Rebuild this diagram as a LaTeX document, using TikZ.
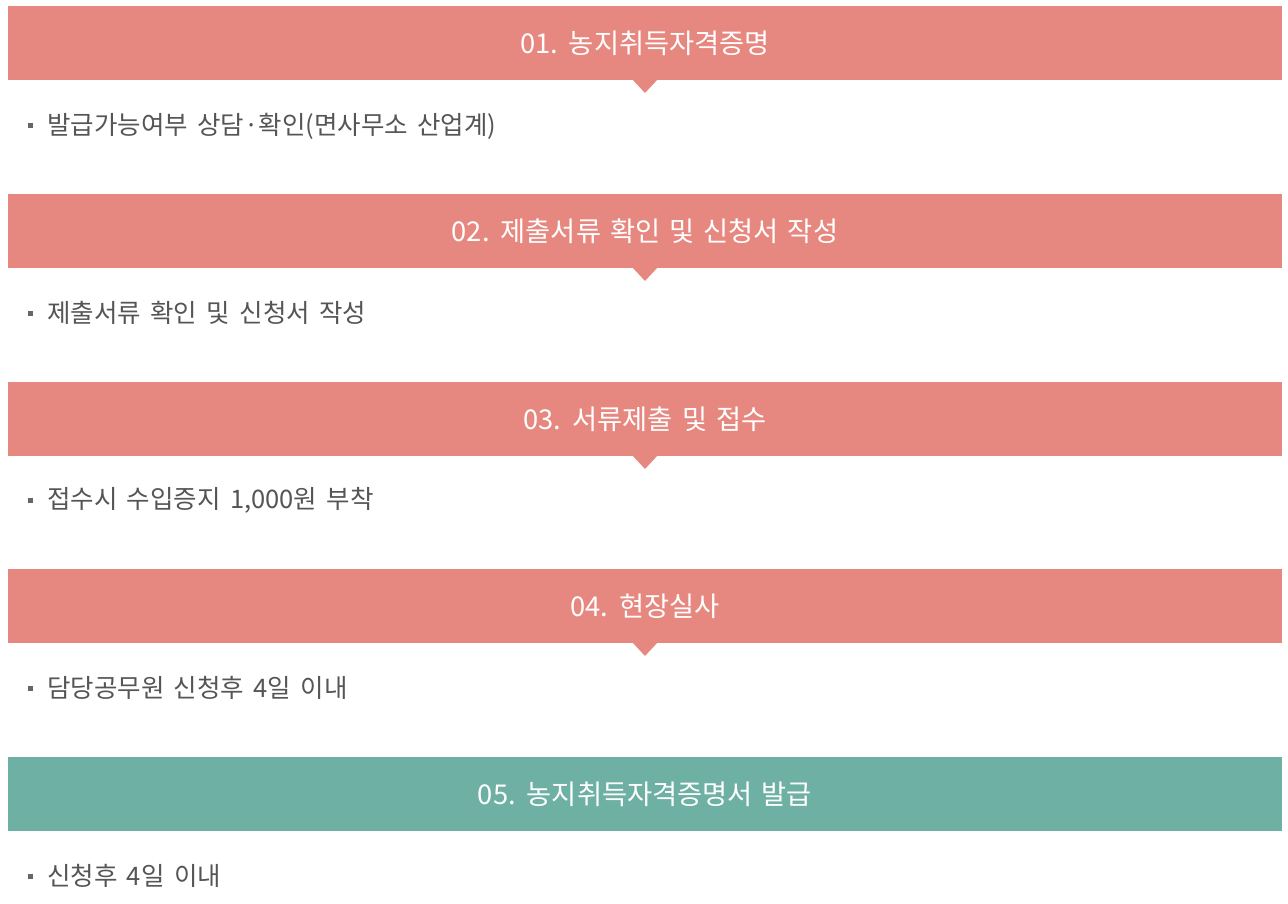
\documentclass[tikz,border=0pt]{standalone}
\usepackage{fontspec}
\setmainfont{Noto Sans CJK KR}
\newcommand\myheadfont{\fontsize{27.3}{31}\selectfont\spaceskip=0.33em\relax}
\newcommand\mybodyfont{\fontsize{25.5}{29}\selectfont\spaceskip=0.37em\relax}
\begin{document}
\begin{tikzpicture}[x=1pt,y=-1pt,
  bar/.style={anchor=north west, minimum width=1274pt, minimum height=74pt, inner sep=0pt, outer sep=0pt, text=white, font=\myheadfont},
  salmon/.style={fill=barsalmon},
  teal/.style={fill=barteal},
  pointer/.style={fill=barsalmon},
  bodytext/.style={anchor=west, inner sep=0pt, text=bodygray, font=\mybodyfont},
  bulletsq/.style={fill=bulletgray, minimum size=5pt, inner sep=0pt}
]
\definecolor{barsalmon}{HTML}{E68880}
\definecolor{barteal}{HTML}{6EB1A4}
\definecolor{bodygray}{HTML}{555555}
\definecolor{bulletgray}{HTML}{666666}
\useasboundingbox (0,0) rectangle (1288,904);
\fill[white] (0,0) rectangle (1288,904);

\node[bar,salmon] (b1) at (8,6) {01. 농지취득자격증명};
\node[bar,salmon] (b2) at (8,194) {02. 제출서류 확인 및 신청서 작성};
\node[bar,salmon] (b3) at (8,382) {03. 서류제출 및 접수};
\node[bar,salmon] (b4) at (8,569) {04. 현장실사};
\node[bar,teal] (b5) at (8,757) {05. 농지취득자격증명서 발급};

\foreach \b in {b1,b2,b3,b4}{
  \fill[pointer] ([xshift=-13pt,yshift=1pt]\b.south) -- ([xshift=13pt,yshift=1pt]\b.south) -- ([yshift=-13pt]\b.south) -- cycle;
}

\node[bulletsq] (s1) at (30,126) {};
\node[bodytext] (t1) at (47,126) {발급가능여부 상담·확인(면사무소 산업계)};
\node[bulletsq] (s2) at (30,313) {};
\node[bodytext] (t2) at (47,313) {제출서류 확인 및 신청서 작성};
\node[bulletsq] (s3) at (30,500) {};
\node[bodytext] (t3) at (47,500) {접수시 수입증지 1,000원 부착};
\node[bulletsq] (s4) at (30,688) {};
\node[bodytext] (t4) at (47,688) {담당공무원 신청후 4일 이내};
\node[bulletsq] (s5) at (30,876) {};
\node[bodytext] (t5) at (47,876) {신청후 4일 이내};
\end{tikzpicture}
\end{document}
